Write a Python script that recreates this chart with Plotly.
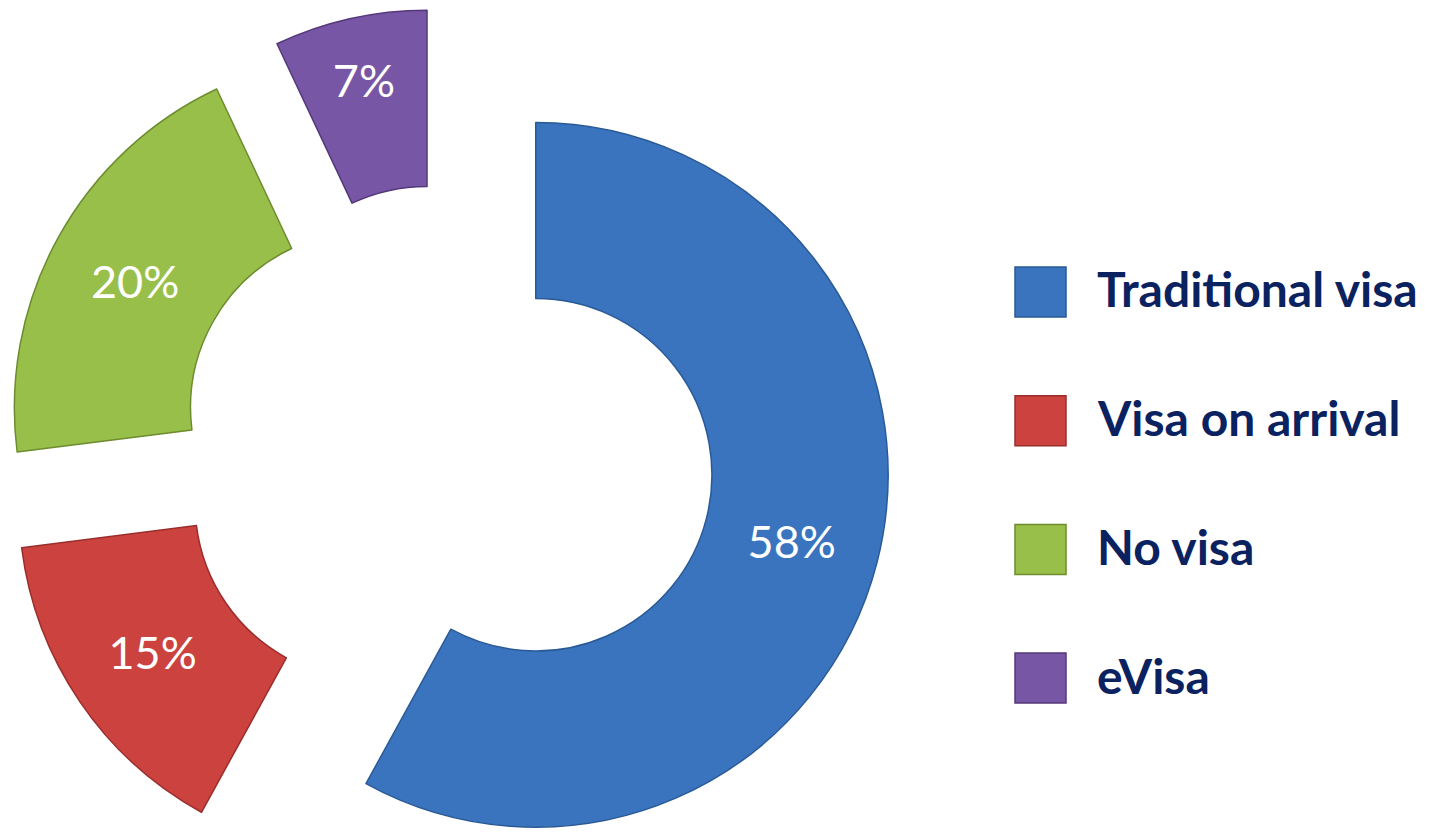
import plotly.graph_objects as go

categories = ["Traditional visa", "Visa on arrival", "No visa", "eVisa"]
shares = [58, 15, 20, 7]
colors = ["#3a74bf", "#cc423f", "#98bf4a", "#7856a6"]
edge_colors = ["#2a5a96", "#9a2e2c", "#6d8c2e", "#54387a"]

W, H = 1438, 896
TOP = 8
plot_h = H - TOP

fig = go.Figure(
    go.Pie(
        labels=categories,
        values=shares,
        sort=False,
        direction="clockwise",
        rotation=0,
        hole=0.5,
        pull=[0.26] * len(shares),
        marker=dict(colors=colors, line=dict(color=edge_colors, width=1.5)),
        textinfo="percent",
        texttemplate="%{percent:.0%}",
        textposition="inside",
        insidetextorientation="horizontal",
        textfont=dict(family="Lato", size=45, color="white"),
        domain=dict(x=[0.0021, 0.6196], y=[0, 1]),
        showlegend=False,
        hoverinfo="label+percent",
    )
)

# custom legend (squares + labels)
leg_top = 292
leg_step = 128.7
sq = 50
shapes = []
annotations = []
for i, (name, col, ecol) in enumerate(zip(categories, colors, edge_colors)):
    cy = leg_top + i * leg_step
    y0 = 1 - (cy + sq / 2 - TOP) / plot_h
    y1 = 1 - (cy - sq / 2 - TOP) / plot_h
    shapes.append(dict(type="rect", xref="paper", yref="paper",
                       x0=1015 / W, x1=1066 / W, y0=y0, y1=y1,
                       fillcolor=col, line=dict(color=ecol, width=1.5)))
    annotations.append(dict(text=f"<b>{name}</b>", xref="paper", yref="paper",
                            x=1095 / W, y=1 - (cy - 3 - TOP) / plot_h,
                            xanchor="left", yanchor="middle", showarrow=False,
                            font=dict(family="Lato", size=48, color="#0b2260")))

fig.update_layout(
    width=W, height=H,
    margin=dict(l=0, r=0, t=TOP, b=0),
    paper_bgcolor="white", plot_bgcolor="white",
    shapes=shapes, annotations=annotations,
)

fig.write_html("out.html",
               config={"displayModeBar": False},
               post_script="document.body.style.margin='0';document.body.style.overflow='hidden';")
